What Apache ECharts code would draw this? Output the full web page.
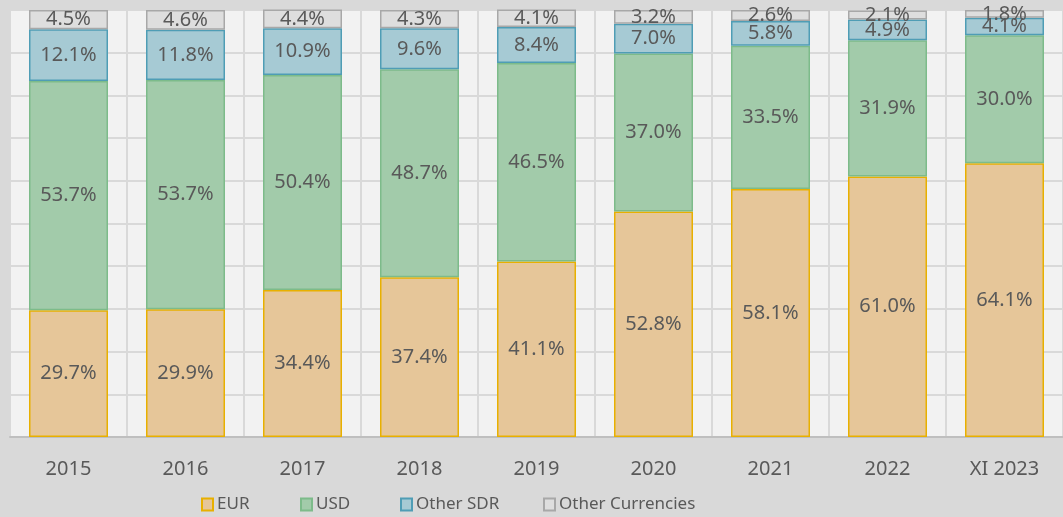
<!DOCTYPE html>
<html>
<head>
<meta charset="utf-8">
<script src="https://cdn.jsdelivr.net/npm/echarts@6/dist/echarts.min.js"></script>
<style>
  html, body { margin: 0; padding: 0; background: #d9d9d9; }
  #main { width: 1063px; height: 517px; }
</style>
</head>
<body>
<div id="main"></div>
<script>
const years = ['2015', '2016', '2017', '2018', '2019', '2020', '2021', '2022', 'XI 2023'];
const eur = [29.7, 29.9, 34.4, 37.4, 41.1, 52.8, 58.1, 61.0, 64.1];
const usd = [53.7, 53.7, 50.4, 48.7, 46.5, 37.0, 33.5, 31.9, 30.0];
const otherSdr = [12.1, 11.8, 10.9, 9.6, 8.4, 7.0, 5.8, 4.9, 4.1];
const otherCur = [4.5, 4.6, 4.4, 4.3, 4.1, 3.2, 2.6, 2.1, 1.8];
const seriesNames = ['EUR', 'USD', 'Other SDR', 'Other Currencies'];

const font = '"Noto Sans", sans-serif';
const textColor = '#595959';

function makeSeries(name, data, fill, border) {
    return {
        name: name,
        type: 'bar',
        stack: 'total',
        data: data,
        barWidth: 79,
        itemStyle: { color: fill, borderColor: border, borderWidth: 1.5 },
        label: {
            show: true,
            position: 'inside',
            formatter: p => p.value.toFixed(1) + '%',
            color: textColor,
            fontFamily: font,
            fontSize: 20
        }
    };
}

// one legend per item so the spacing follows the original
const legendLefts = [196, 295, 395, 538];
const legends = seriesNames.map((n, i) => ({
    left: legendLefts[i], top: 491,
    icon: 'rect',
    itemWidth: 11, itemHeight: 12,
    textStyle: { color: textColor, fontFamily: font, fontSize: 17, padding: [0, 0, 0, -1] },
    data: [n]
}));

const chart = echarts.init(document.getElementById('main'), null, { renderer: 'canvas' });
chart.setOption({
    backgroundColor: '#d9d9d9',
    animation: false,
    grid: {
        left: 10, right: -5, top: 10, bottom: 80,
        show: true, backgroundColor: '#f2f2f2', borderWidth: 0
    },
    legend: legends,
    xAxis: {
        type: 'category',
        data: years,
        axisLine: { lineStyle: { color: '#bfbfbf', width: 2 } },
        axisTick: { show: false },
        axisLabel: { color: textColor, fontFamily: font, fontSize: 20, margin: 22 },
        splitLine: { show: true, lineStyle: { color: '#d9d9d9', width: 2 } }
    },
    yAxis: {
        type: 'value',
        min: 0, max: 100, interval: 10,
        axisLabel: { show: false },
        axisLine: { show: false },
        axisTick: { show: false },
        splitLine: { lineStyle: { color: '#d9d9d9', width: 2 } }
    },
    series: [
        makeSeries('EUR', eur, '#e6c699', '#e8b000'),
        makeSeries('USD', usd, '#a2cbaa', '#7dbb8a'),
        makeSeries('Other SDR', otherSdr, '#a6cad4', '#4f9db5'),
        makeSeries('Other Currencies', otherCur, '#dedede', '#a8a8a8')
    ]
});
</script>
</body>
</html>
